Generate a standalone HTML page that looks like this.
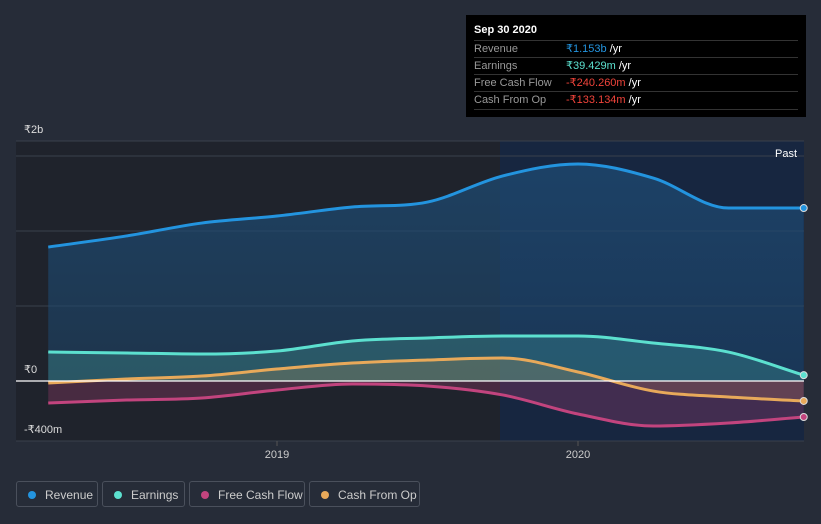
<!DOCTYPE html>
<html><head><meta charset="utf-8"><style>
body{margin:0;width:821px;height:524px;background:#262c38;font-family:"Liberation Sans",sans-serif;overflow:hidden;position:relative}
svg{position:absolute;left:0;top:0}
.tt{position:absolute;left:466px;top:15px;width:340px;height:102px;background:#000;color:#fff;font-size:11px}
.tt .h{position:absolute;left:8px;top:9px;font-weight:bold;font-size:11px}
.row{position:absolute;left:8px;width:324px;height:17px;border-top:1px solid #333;line-height:17px}
.row span.l{color:#999;position:absolute;left:0}
.row span.v{position:absolute;left:92px}
.lg{position:absolute;top:481px;height:26px;border:1px solid #4a505c;border-radius:3px;color:#ccc;font-size:12px;line-height:26px;box-sizing:border-box}
.lg i{position:absolute;left:11px;top:9px;width:8px;height:8px;border-radius:50%}
.lg span{position:absolute;left:28px}
</style></head><body>
<svg width="821" height="524">
<defs>
<linearGradient id="rg" x1="0" y1="0" x2="0" y2="1"><stop offset="0" stop-color="#1e4a72" stop-opacity="0.85"/><stop offset="1" stop-color="#1e4a72" stop-opacity="0.5"/></linearGradient>
</defs>
<rect x="16" y="141" width="788" height="300" fill="#1f232c"/>
<rect x="500" y="141" width="304" height="300" fill="#172640"/>
<g id="grid"></g>
<g id="areas"></g>
<g id="lines"></g>
<line x1="16" x2="804" y1="381" y2="381" stroke="#fff" stroke-width="1.2"/>
<text x="24" y="133" fill="#ddd" font-size="11">₹2b</text>
<text x="24" y="373" fill="#ddd" font-size="11">₹0</text>
<text x="24" y="433" fill="#ddd" font-size="11">-₹400m</text>
<text x="797" y="157" fill="#fff" font-size="11" text-anchor="end">Past</text>
<g id="xt"></g>
</svg>
<div class="tt">
<div class="h">Sep 30 2020</div>
<div class="row" style="top:25px"><span class="l">Revenue</span><span class="v"><b style="font-weight:normal;color:#2394df">₹1.153b</b> /yr</span></div>
<div class="row" style="top:42px"><span class="l">Earnings</span><span class="v"><b style="font-weight:normal;color:#5ce0cf">₹39.429m</b> /yr</span></div>
<div class="row" style="top:59px"><span class="l">Free Cash Flow</span><span class="v"><b style="font-weight:normal;color:#f0433a">-₹240.260m</b> /yr</span></div>
<div class="row" style="top:76px;border-bottom:1px solid #333"><span class="l">Cash From Op</span><span class="v"><b style="font-weight:normal;color:#f0433a">-₹133.134m</b> /yr</span></div>
</div>
<div class="lg" style="left:16px;width:82px"><i style="background:#2394df"></i><span>Revenue</span></div>
<div class="lg" style="left:102px;width:83px"><i style="background:#5ce0cf"></i><span>Earnings</span></div>
<div class="lg" style="left:189px;width:116px"><i style="background:#c2447e"></i><span>Free Cash Flow</span></div>
<div class="lg" style="left:309px;width:111px"><i style="background:#e8a95a"></i><span>Cash From Op</span></div>
<script>
const dates=[2018.24,2018.5,2018.75,2019,2019.25,2019.5,2019.75,2020,2020.25,2020.5,2020.75];
const revenue=[893,967,1053,1100,1160,1193,1367,1447,1353,1153,1153];
const earnings=[193,187,180,200,267,287,300,300,253,193,39];
const cashFromOp=[-13,13,33,80,120,140,153,60,-67,-107,-133];
const freeCashFlow=[-147,-127,-113,-60,-20,-33,-93,-220,-300,-280,-240];
const gridVals=[-400,0,500,1000,1500,1600];
const xTicks=[2019,2020];
const X=t=>277+(t-2019)*301;
const Y=v=>381-v*0.15;
const NS='http://www.w3.org/2000/svg';
function mk(tag,at,parent){const e=document.createElementNS(NS,tag);for(const k in at)e.setAttribute(k,at[k]);document.getElementById(parent).appendChild(e);return e;}
gridVals.forEach(v=>{const e=mk('line',{x1:16,x2:804,y1:Y(v),y2:Y(v),stroke:'#3a404c','stroke-width':1},'grid');

});
xTicks.forEach(t=>{const l=mk('line',{x1:X(t),x2:X(t),y1:441,y2:446,stroke:'#555'},'xt');


const tx=mk('text',{x:X(t),y:458,fill:'#ccc','font-size':11,'text-anchor':'middle'},'xt');tx.textContent=t;

});
function path(vals){const p=dates.map((d,i)=>[X(d),Y(vals[i])]);const n=p.length;
const dl=[],m=[];for(let i=0;i<n-1;i++)dl.push((p[i+1][1]-p[i][1])/(p[i+1][0]-p[i][0]));
for(let i=0;i<n;i++){if(i==0)m.push(dl[0]);else if(i==n-1)m.push(dl[n-2]);else if(dl[i-1]*dl[i]<=0)m.push(0);else m.push((dl[i-1]+dl[i])/2);}
if(Math.abs(dl[n-2])<0.05)m[n-1]=0,m[n-2]=Math.min(Math.abs(m[n-2]),0)*0;
let s='M'+p[0][0]+','+p[0][1];
for(let i=0;i<n-1;i++){const h=(p[i+1][0]-p[i][0])/3;
s+=' C'+(p[i][0]+h)+','+(p[i][1]+m[i]*h)+' '+(p[i+1][0]-h)+','+(p[i+1][1]-m[i+1]*h)+' '+p[i+1][0]+','+p[i+1][1];}return s;}
const series=[[revenue,'#2394df','url(#rg)',0.9,'revenue'],[earnings,'#5ce0cf','#5ce0cf',0.2,'earnings'],[cashFromOp,'#e8a95a','#e8a95a',0.2,'cash-from-op'],[freeCashFlow,'#c2447e','#c2447e',0.25,'free-cash-flow']];
series.forEach(([v,c,f,o,n])=>{const d=path(v);
const a=mk('path',{d:d+' L'+X(dates[dates.length-1])+','+Y(0)+' L'+X(dates[0])+','+Y(0)+'Z',fill:f,'fill-opacity':o},'areas');


const l=mk('path',{d:d,fill:'none',stroke:c,'stroke-width':3},'lines');


const e=mk('circle',{cx:X(dates[dates.length-1]),cy:Y(v[v.length-1]),r:3.5,fill:c,stroke:'#ddd','stroke-width':1},'lines');

});
</script>
</body></html>
